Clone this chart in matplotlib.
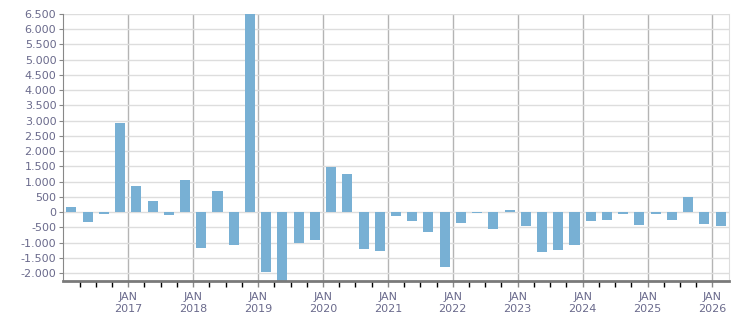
import numpy as np
import matplotlib
matplotlib.use("Agg")
import matplotlib.pyplot as plt
from matplotlib.ticker import FuncFormatter

# quarterly values, Q1 2016 .. Q1 2026
quarters = [f"{y}Q{q}" for y in range(2016, 2027) for q in range(1, 5)][:41]
values = [170, -310, -65, 2930,
          860, 370, -95, 1060,
          -1170, 700, -1070, 6600,
          -1980, -2400, -1005, -910,
          1480, 1250, -1200, -1265,
          -130, -290, -650, -1785,
          -345, -30, -550, 65,
          -455, -1300, -1235, -1070,
          -290, -260, -65, -420,
          -65, -260, 485, -390,
          -455]
years = list(range(2017, 2027))

bar_color = "#78b0d4"
text_color = "#6a6a8c"

fig = plt.figure(figsize=(7.51, 3.13), dpi=100)
ax = fig.add_axes([0.0843, 0.1022, 0.886, 0.8531])

x = np.arange(len(values)) + 0.5
ax.bar(x, values, width=0.62, color=bar_color, zorder=2)

ax.set_xlim(0, 41)
ax.set_ylim(-2260, 6500)

# y axis
ax.set_yticks(np.arange(-2000, 6501, 500))
ax.yaxis.set_major_formatter(FuncFormatter(lambda v, p: f"{int(v):,}".replace(",", ".")))
ax.grid(axis="y", color="#dddddd", linewidth=1, zorder=0)

# x axis: year ticks at JAN, quarter minor ticks
jan_pos = [4 * (y - 2016) for y in years]
ax.set_xticks(jan_pos)
ax.set_xticklabels([f"JAN\n{y}" for y in years])
ax.set_xticks(np.arange(1, 41), minor=True)
for p in jan_pos:
    ax.axvline(p, color="#b4b4b4", linewidth=1, zorder=1)

ax.tick_params(axis="both", labelsize=8, labelcolor=text_color, colors="#888888")
ax.tick_params(axis="x", which="both", length=4, width=1, pad=4)
ax.tick_params(axis="y", length=3, pad=2)

ax.spines["top"].set_visible(False)
ax.spines["right"].set_color("#dddddd")
ax.spines["left"].set_color("#888888")
ax.spines["bottom"].set_color("#7a7a7a")
ax.spines["bottom"].set_linewidth(2)

fig.savefig("out.png", dpi=100)
